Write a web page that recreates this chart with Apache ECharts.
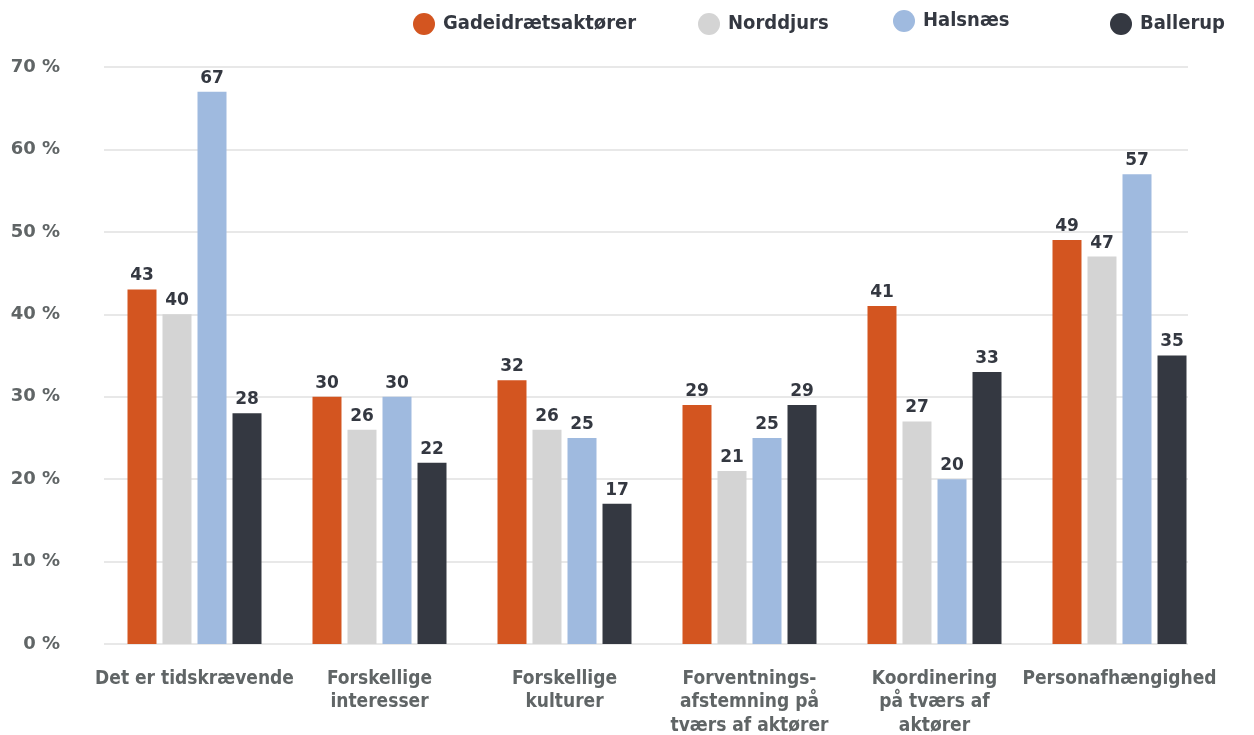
<!DOCTYPE html>
<html>
<head>
<meta charset="utf-8">
<script src="https://cdn.jsdelivr.net/npm/echarts@6/dist/echarts.min.js"></script>
<style>
  html, body { margin: 0; padding: 0; background: #fff; }
  #chart { width: 1254px; height: 735px; }
</style>
</head>
<body>
<div id="chart"></div>
<script>
// data (percent)
var categories = [
    'Det er tidskrævende',
    'Forskellige\ninteresser',
    'Forskellige\nkulturer',
    'Forventnings-\nafstemning på\ntværs af aktører',
    'Koordinering\npå tværs af\naktører',
    'Personafhængighed'
];
var seriesNames = ['Gadeidrætsaktører', 'Norddjurs', 'Halsnæs', 'Ballerup'];
var gadeidraet = [43, 30, 32, 29, 41, 49];
var norddjurs  = [40, 26, 26, 21, 27, 47];
var halsnaes   = [67, 30, 25, 25, 20, 57];
var ballerup   = [28, 22, 17, 29, 33, 35];
var yTicks = [0, 10, 20, 30, 40, 50, 60, 70];

var colors = ['#d35520', '#d4d4d4', '#9fbadf', '#343841'];
var condensed = '"DejaVu Sans Condensed", "Liberation Sans Narrow", "DejaVu Sans", sans-serif';
var wide = '"DejaVu Sans", Verdana, sans-serif';

var chart = echarts.init(document.getElementById('chart'));

var values = [gadeidraet, norddjurs, halsnaes, ballerup];
var series = [];
for (var i = 0; i < seriesNames.length; i++) {
    series.push({
        name: seriesNames[i],
        type: 'bar',
        xAxisIndex: 0,
        yAxisIndex: 0,
        barWidth: 29,
        barGap: '20.7%',
        itemStyle: { color: colors[i] },
        label: {
            show: true,
            position: 'top',
            distance: 5,
            color: '#343841',
            fontFamily: wide,
            fontWeight: 'bold',
            fontSize: 17
        },
        data: values[i]
    });
}

// one legend per series so each can sit where it does in the picture
var legendLeft = [413, 698, 893, 1110];
var legendTop = [13, 13, 10, 13];
var legends = [];
for (var j = 0; j < seriesNames.length; j++) {
    legends.push({
        data: [seriesNames[j]],
        left: legendLeft[j],
        top: legendTop[j],
        padding: 0,
        icon: 'circle',
        itemWidth: 22,
        itemHeight: 22,
        selectedMode: false,
        textStyle: {
            color: '#343841',
            fontFamily: condensed,
            fontWeight: 'bold',
            fontSize: 20,
            padding: [0, 0, 0, 3]
        }
    });
}

var option = {
    animation: false,
    legend: legends,
    grid: [
        { left: 102, right: 42, top: 67, bottom: 91, outerBoundsMode: 'none' },
        { left: 104, right: 66, top: 67, bottom: 91, outerBoundsMode: 'none' }
    ],
    xAxis: [
        {
            type: 'category',
            gridIndex: 0,
            data: categories,
            axisLine: { show: false },
            axisTick: { show: false },
            axisLabel: {
                interval: 0,
                margin: 23,
                color: '#606566',
                fontFamily: condensed,
                fontWeight: 'bold',
                fontSize: 19,
                lineHeight: 23.5
            }
        },
        {
            type: 'category',
            gridIndex: 1,
            data: [],
            show: false
        }
    ],
    yAxis: [
        {
            type: 'value',
            gridIndex: 0,
            min: yTicks[0],
            max: yTicks[yTicks.length - 1],
            interval: 10,
            show: false,
            splitLine: { show: false }
        },
        {
            type: 'value',
            gridIndex: 1,
            min: yTicks[0],
            max: yTicks[yTicks.length - 1],
            interval: 10,
            axisLine: { show: false },
            axisTick: { show: false },
            splitLine: { lineStyle: { color: '#e0e0e0', width: 1.5 } },
            axisLabel: {
                margin: 44,
                color: '#606566',
                fontFamily: wide,
                fontWeight: 'bold',
                fontSize: 18,
                formatter: '{value} %'
            }
        }
    ],
    series: series
};
chart.setOption(option);
</script>
</body>
</html>
